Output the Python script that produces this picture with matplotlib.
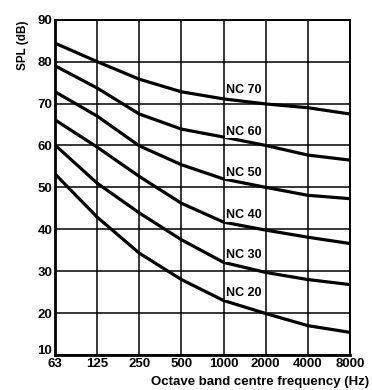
import matplotlib
matplotlib.use("Agg")
import matplotlib.pyplot as plt
import matplotlib.transforms as mtransforms

# ── 数据 ──────────────────────────────────────────────
freq_labels = ["63", "125", "250", "500", "1000", "2000", "4000", "8000"]

nc70 = [84.4, 80.0, 75.8, 72.8, 71.1, 69.9, 69.0, 67.5]
nc60 = [79.0, 73.7, 67.5, 63.9, 62.0, 60.0, 57.7, 56.5]
nc50 = [72.8, 67.0, 59.9, 55.4, 52.0, 50.0, 48.1, 47.3]
nc40 = [66.1, 59.6, 52.6, 46.2, 41.7, 39.8, 38.1, 36.6]
nc30 = [60.1, 51.0, 43.9, 37.5, 32.1, 29.7, 28.0, 26.8]
nc20 = [53.2, 42.9, 34.3, 28.0, 23.0, 19.9, 17.0, 15.4]

curve_names = ["NC 70", "NC 60", "NC 50", "NC 40", "NC 30", "NC 20"]
label_y = [73.3, 63.3, 53.5, 43.3, 33.8, 24.7]

y_ticks = [10, 20, 30, 40, 50, 60, 70, 80, 90]

# ── 绘图 ──────────────────────────────────────────────
plt.rcParams["font.family"] = ["Liberation Sans", "DejaVu Sans"]
plt.rcParams["font.weight"] = "bold"

fig = plt.figure(figsize=(3.72, 3.90), dpi=100)
ax = fig.add_axes([55 / 372, 35 / 390, 295 / 372, 335.3 / 390])

x = list(range(len(freq_labels)))
curves = [nc70, nc60, nc50, nc40, nc30, nc20]
for vals in curves:
    ax.plot(x, vals, color="black", lw=2.3, solid_capstyle="butt", zorder=3)

for name, ly in zip(curve_names, label_y):
    ax.text(4.05, ly, name, fontsize=9, fontweight="bold", ha="left",
            va="center", zorder=4,
            bbox=dict(boxstyle="square,pad=0.05", fc="white", ec="none"))

ax.set_xlim(0, 7)
ax.set_ylim(10, 90)
ax.set_xticks(x)
ax.set_xticklabels(freq_labels)
ax.set_yticks(y_ticks)
ax.tick_params(axis="both", length=0, labelsize=9.5, pad=2)
for lbl in ax.get_xticklabels() + ax.get_yticklabels():
    lbl.set_fontweight("bold")

# "10" 稍微上移，避免与 "63" 重叠
lbl10 = ax.get_yticklabels()[0]
lbl10.set_transform(lbl10.get_transform() +
                    mtransforms.ScaledTranslation(0, 5 / 100, fig.dpi_scale_trans))

ax.grid(True, color="black", lw=1.1)
ax.set_axisbelow(True)
for side in ["left", "bottom"]:
    ax.spines[side].set_linewidth(2.0)
for side in ["top", "right"]:
    ax.spines[side].set_linewidth(1.4)

fig.text(23 / 372, 1 - 45 / 390, "SPL (dB)", rotation=90, ha="center",
         va="center", fontsize=8.5, fontweight="bold")
fig.text(369 / 372, 1 - 382 / 390, "Octave band centre frequency (Hz)",
         ha="right", va="center", fontsize=9.5, fontweight="bold")

fig.savefig("out.png", dpi=100)
